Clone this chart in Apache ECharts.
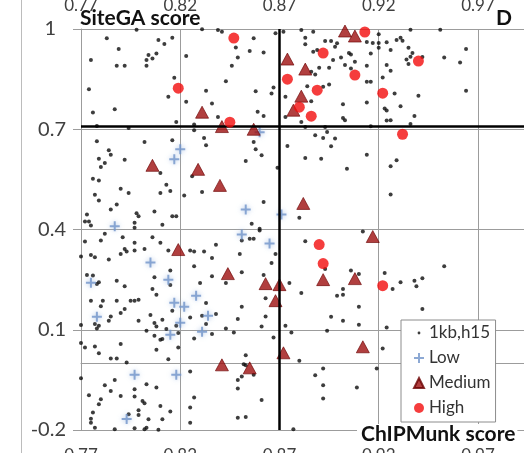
<!DOCTYPE html>
<html>
<head>
<meta charset="utf-8">
<script src="https://cdn.jsdelivr.net/npm/echarts@6/dist/echarts.min.js"></script>
<style>
  html, body { margin: 0; padding: 0; background: #fff; }
  #chart { width: 524px; height: 453px; }
</style>
</head>
<body>
<div id="chart"></div>
<script>
// axis ticks
const xTicks = [0.77, 0.82, 0.87, 0.92, 0.97];
const yTicks = [-0.2, 0.1, 0.4, 0.7, 1];

// thresholds (thick black lines)
const chipCut = 0.87;
const siteCut = 0.712;

// [ChIPMunk score, SiteGA score]
const lowPts = [
  [0.860, 0.691], [0.820, 0.64], [0.817, 0.61], [0.853, 0.46], [0.871, 0.445],
  [0.787, 0.41], [0.851, 0.385], [0.865, 0.358], [0.805, 0.301], [0.775, 0.241],
  [0.814, 0.25], [0.828, 0.202], [0.778, 0.139], [0.817, 0.181], [0.822, 0.169],
  [0.820, 0.121], [0.834, 0.142], [0.815, 0.085], [0.831, 0.094], [0.797, -0.035],
  [0.818, -0.035], [0.793, -0.167]
];

const mediumPts = [
  [0.903, 0.994], [0.908, 0.979], [0.874, 0.91], [0.883, 0.88], [0.881, 0.799],
  [0.877, 0.757], [0.857, 0.70], [0.882, 0.478], [0.831, 0.751], [0.841, 0.708],
  [0.806, 0.592], [0.829, 0.58], [0.840, 0.532], [0.819, 0.34], [0.844, 0.268],
  [0.863, 0.238], [0.870, 0.235], [0.868, 0.187], [0.917, 0.379], [0.892, 0.25],
  [0.908, 0.253], [0.912, 0.049], [0.872, 0.031], [0.855, -0.014], [0.841, -0.005]
];

const highPts = [
  [0.913, 0.991], [0.892, 0.928], [0.940, 0.904], [0.874, 0.85], [0.908, 0.862],
  [0.889, 0.817], [0.922, 0.808], [0.880, 0.766], [0.886, 0.739], [0.932, 0.685],
  [0.819, 0.823], [0.847, 0.973], [0.845, 0.721], [0.890, 0.355], [0.892, 0.298],
  [0.922, 0.232]
];

const kbPts = [
  [0.798,0.998],[0.783,0.972],[0.809,0.967],[0.816,0.974],[0.812,0.955],[0.789,0.94],[0.804,0.922],
  [0.808,0.927],[0.806,0.912],[0.803,0.907],[0.775,0.907],[0.788,0.89],[0.792,0.89],[0.803,0.89],
  [0.823,0.919],[0.817,0.854],[0.774,0.82],[0.814,0.797],[0.823,0.782],[0.833,0.815],[0.836,0.777],
  [0.787,0.76],[0.776,0.75],[0.839,0.737],[0.818,0.722],[0.778,0.71],[0.794,0.704],[0.827,0.714],
  [0.827,0.697],[0.832,0.674],[0.778,0.664],[0.802,0.662],[0.816,0.667],[0.784,0.637],[0.785,0.624],
  [0.833,0.652],[0.779,0.612],[0.782,0.599],[0.792,0.609],[0.780,0.587],[0.810,0.569],[0.826,0.559],
  [0.776,0.552],[0.779,0.547],[0.790,0.522],[0.794,0.509],[0.813,0.534],[0.815,0.515],[0.831,0.512],
  [0.777,0.504],[0.779,0.487],[0.810,0.509],[0.822,0.502],[0.788,0.475],[0.785,0.46],[0.807,0.454],
  [0.773,0.445],[0.772,0.424],[0.774,0.424],[0.775,0.412],[0.798,0.449],[0.799,0.44],[0.816,0.44],
  [0.818,0.44],[0.811,0.414],[0.797,0.42],[0.797,0.405],[0.841,0.992],[0.839,0.997],
  [0.868,0.987],[0.872,0.992],[0.881,0.997],[0.887,0.992],[0.857,0.972],[0.883,0.974],[0.883,0.954],
  [0.893,0.964],[0.896,0.964],[0.899,0.957],[0.898,0.947],[0.889,0.937],[0.848,0.945],[0.855,0.934],
  [0.862,0.93],[0.887,0.932],[0.849,0.915],[0.901,0.915],[0.906,0.924],[0.916,0.927],[0.846,0.89],
  [0.897,0.907],[0.903,0.892],[0.908,0.902],[0.890,0.884],[0.895,0.884],[0.906,0.882],[0.914,0.89],
  [0.886,0.872],[0.888,0.864],[0.916,0.842],[0.914,0.842],[0.843,0.844],[0.867,0.825],[0.858,0.814],
  [0.866,0.807],[0.873,0.797],[0.895,0.834],[0.884,0.829],[0.892,0.827],[0.902,0.775],[0.914,0.78],
  [0.886,0.784],[0.859,0.752],[0.862,0.74],[0.873,0.737],[0.902,0.734],[0.903,0.727],[0.881,0.722],
  [0.883,0.707],[0.893,0.707],[0.916,0.709],[0.888,0.682],[0.892,0.674],[0.898,0.672],[0.894,0.692],
  [0.874,0.65],[0.896,0.649],[0.857,0.662],[0.858,0.64],[0.861,0.622],[0.883,0.614],[0.891,0.612],
  [0.914,0.624],[0.853,0.605],[0.869,0.585],[0.904,0.582],[0.862,0.482],[0.856,0.417],[0.860,0.402],
  [0.880,0.435],
  [0.920,0.984],[0.936,0.998],[0.951,0.998],[0.924,0.96],[0.929,0.967],[0.931,0.974],[0.932,0.965],
  [0.926,0.937],[0.920,0.944],[0.935,0.944],[0.964,0.94],[0.934,0.909],[0.936,0.917],[0.935,0.895],
  [0.924,0.892],[0.926,0.875],[0.953,0.915],[0.961,0.9],[0.922,0.855],[0.928,0.807],[0.940,0.8],
  [0.964,0.815],[0.931,0.769],[0.923,0.762],[0.924,0.756],[0.938,0.74],[0.924,0.726],[0.926,0.727],
  [0.936,0.716],[0.929,0.607],[0.926,0.589],[0.926,0.505],
  [0.914,0.961],[0.917,0.958],[0.920,0.958],[0.905,0.928],[0.937,0.928],[0.942,0.916],[0.831,0.999],
  [0.772,0.364],[0.780,0.367],[0.782,0.387],[0.791,0.377],[0.797,0.36],[0.806,0.377],[0.810,0.36],
  [0.792,0.342],[0.793,0.334],[0.797,0.337],[0.802,0.342],[0.790,0.327],[0.775,0.324],[0.777,0.317],
  [0.784,0.31],[0.770,0.319],[0.814,0.337],[0.825,0.337],[0.827,0.334],[0.832,0.334],[0.838,0.354],
  [0.836,0.315],[0.827,0.29],[0.815,0.277],[0.773,0.264],[0.776,0.262],[0.779,0.242],[0.778,0.237],
  [0.788,0.247],[0.807,0.257],[0.815,0.234],[0.830,0.24],[0.836,0.26],[0.792,0.23],[0.806,0.222],
  [0.808,0.205],[0.797,0.187],[0.795,0.187],[0.799,0.19],[0.775,0.187],[0.781,0.187],[0.788,0.187],
  [0.780,0.17],[0.792,0.162],[0.785,0.14],[0.784,0.127],[0.790,0.15],[0.805,0.144],[0.816,0.157],
  [0.833,0.18],[0.831,0.142],[0.833,0.117],[0.838,0.147],[0.770,0.114],[0.777,0.117],[0.779,0.112],
  [0.778,0.104],[0.799,0.127],[0.807,0.12],[0.808,0.11],[0.811,0.13],[0.813,0.102],[0.818,0.112],
  [0.825,0.137],[0.836,0.087],[0.803,0.097],[0.807,0.082],[0.810,0.07],[0.811,0.072],[0.819,0.09],
  [0.827,0.074],[0.770,0.06],[0.772,0.047],[0.779,0.03],[0.777,0.05],[0.790,0.057],[0.785,0.014],
  [0.788,0.014],[0.793,0.002],[0.808,0.04],[0.814,0.012],[0.819,0.047],[0.825,-0.025],[0.770,-0.045],
  [0.782,-0.066],[0.785,-0.083],[0.787,-0.05],[0.803,-0.063],[0.797,-0.078],[0.808,-0.073],[0.774,-0.096],
  [0.780,-0.108],[0.779,-0.123],[0.790,-0.098],[0.797,-0.1],[0.801,-0.113],[0.802,-0.12],[0.827,-0.103],
  [0.810,-0.128],[0.825,-0.133],[0.776,-0.148],[0.799,-0.141],[0.794,-0.153],[0.775,-0.166],[0.775,-0.178],
  [0.804,-0.168],[0.811,-0.168],[0.815,-0.145],[0.777,-0.193],[0.787,-0.198],[0.797,-0.195],[0.802,-0.198],
  [0.803,-0.193],[0.825,-0.178],[0.799,-0.155],[0.809,-0.199],
  [0.860,0.397],[0.912,0.394],[0.855,0.372],[0.857,0.372],[0.851,0.367],[0.883,0.365],[0.850,0.327],
  [0.866,0.3],[0.868,0.327],[0.851,0.272],[0.862,0.264],[0.843,0.24],[0.875,0.24],[0.863,0.194],
  [0.881,0.21],[0.893,0.282],[0.906,0.277],[0.902,0.222],[0.899,0.202],[0.902,0.205],[0.910,0.267],
  [0.910,0.169],[0.851,0.169],[0.849,0.132],[0.863,0.14],[0.896,0.139],[0.902,0.127],[0.910,0.115],
  [0.861,0.11],[0.843,0.104],[0.847,0.092],[0.867,0.077],[0.873,0.112],[0.876,0.092],[0.894,0.097],
  [0.853,0.024],[0.852,-0.003],[0.853,-0.006],[0.851,-0.04],[0.849,-0.05],[0.849,-0.076],[0.857,-0.035],
  [0.880,0.007],[0.888,-0.036],[0.892,-0.016],[0.892,-0.066],[0.892,-0.106],[0.909,-0.073],[0.861,-0.11],
  [0.849,-0.163],[0.853,-0.161],[0.877,-0.198],
  [0.953,0.29],[0.923,0.27],[0.931,0.242],[0.938,0.247],[0.942,0.254],[0.939,0.23],[0.927,0.222],
  [0.942,0.162],[0.924,0.107],[0.922,0.044],[0.919,-0.016]
];

const plusPath = 'path://M4,0h2v4h4v2h-4v4h-2v-4h-4v-2h4z';
// tiny dot inside an empty 10x10 frame, so the legend keeps it small
const dotIcon = 'path://M0,0M10,10M3.6,5a1.4,1.4 0 1,0 2.8,0a1.4,1.4 0 1,0 -2.8,0z';
const font = 'Lato';
const gridGray = '#9c9c9c';
const labelGray = '#404040';

const chart = echarts.init(document.getElementById('chart'));

const option = {
  animation: false,
  backgroundColor: '#fff',
  grid: { left: 81, top: 29, right: -13.5, bottom: 23, containLabel: false, outerBoundsMode: 'none' },
  xAxis: [
    {
      type: 'value', min: 0.77, max: 1.0, position: 'bottom',
      axisLine: { show: true, lineStyle: { color: gridGray } },
      axisTick: { show: false, customValues: xTicks },
      axisLabel: {
        customValues: xTicks, margin: 17, fontFamily: font, fontSize: 17, color: labelGray,
        formatter: (v) => v.toFixed(2)
      },
      splitLine: { show: true, lineStyle: { color: gridGray } }
    },
    {
      // labels of the panel above, only their lower half shows
      type: 'value', min: 0.77, max: 1.0, position: 'top',
      axisLine: { show: false },
      axisTick: { show: false, customValues: xTicks },
      axisLabel: {
        customValues: xTicks, margin: 15, fontFamily: font, fontSize: 17, color: labelGray,
        formatter: (v) => v.toFixed(2)
      },
      splitLine: { show: false }
    }
  ],
  yAxis: {
    type: 'value', min: -0.2, max: 1,
    axisLine: { show: true, lineStyle: { color: gridGray } },
    axisTick: { show: true, length: 8, customValues: yTicks, lineStyle: { color: gridGray } },
    axisLabel: {
      customValues: yTicks, margin: 15, fontFamily: font, fontSize: 20, color: labelGray,
      formatter: (v) => {
        const s = String(Math.round(v * 10) / 10);
        return v === 1 ? '{one|' + s + '}' : s;
      },
      rich: { one: { fontFamily: font, fontSize: 20, color: labelGray, padding: [0, 10, 0, 0] } }
    },
    splitLine: { show: true, lineStyle: { color: gridGray } }
  },
  legend: {
    orient: 'vertical', left: 401, top: 320,
    itemWidth: 10, itemHeight: 10, itemGap: 5,
    padding: [3, 5, 4, 12],
    borderColor: '#8c8c8c', borderWidth: 1, backgroundColor: '#fff',
    textStyle: { fontFamily: font, fontSize: 17, color: '#333', lineHeight: 20 },
    data: [
      { name: '1kb,h15', icon: dotIcon },
      { name: 'Low', icon: plusPath },
      { name: 'Medium', icon: 'triangle' },
      { name: 'High', icon: 'circle' }
    ]
  },
  series: [
    {
      name: '1kb,h15', type: 'scatter', data: kbPts, z: 2,
      symbol: 'circle', symbolSize: 4,
      itemStyle: { color: '#0d0d0d' },
      markLine: {
        silent: true, symbol: 'none', animation: false,
        label: { show: false },
        lineStyle: { color: '#000', width: 2.5, type: 'solid' },
        data: [{ xAxis: chipCut }, { yAxis: siteCut }]
      }
    },
    {
      name: 'Low', type: 'scatter', data: lowPts, z: 3,
      symbol: plusPath, symbolSize: 10,
      itemStyle: { color: '#7193c9', shadowBlur: 5, shadowColor: 'rgba(150,180,222,0.9)' }
    },
    {
      name: 'Medium', type: 'scatter', data: mediumPts, z: 4,
      symbol: 'triangle', symbolSize: [13, 12],
      itemStyle: { color: '#9e0f0f', borderColor: '#6a0000', borderWidth: 0.8 }
    },
    {
      name: 'High', type: 'scatter', data: highPts, z: 5,
      symbol: 'circle', symbolSize: 11,
      itemStyle: { color: '#f20d0d' }
    }
  ],
  graphic: [
    {
      type: 'line', silent: true,
      shape: { x1: 21.5, y1: 0, x2: 21.5, y2: 453 },
      style: { stroke: '#bcbcbc', lineWidth: 1 }
    },
    {
      type: 'text', left: 80, top: 8, z: 100,
      style: { text: 'SiteGA score', font: 'bold 21px Lato', fill: '#111' }
    },
    {
      type: 'text', left: 357, top: 424, z: 100,
      style: {
        text: 'ChIPMunk score', font: 'bold 21px Lato', fill: '#111',
        backgroundColor: '#fff', padding: [0, 2, 0, 4]
      }
    },
    {
      type: 'text', right: 12, top: 8, z: 100,
      style: { text: 'D', font: 'bold 21px Lato', fill: '#111' }
    }
  ]
};

chart.setOption(option);
</script>
</body>
</html>
